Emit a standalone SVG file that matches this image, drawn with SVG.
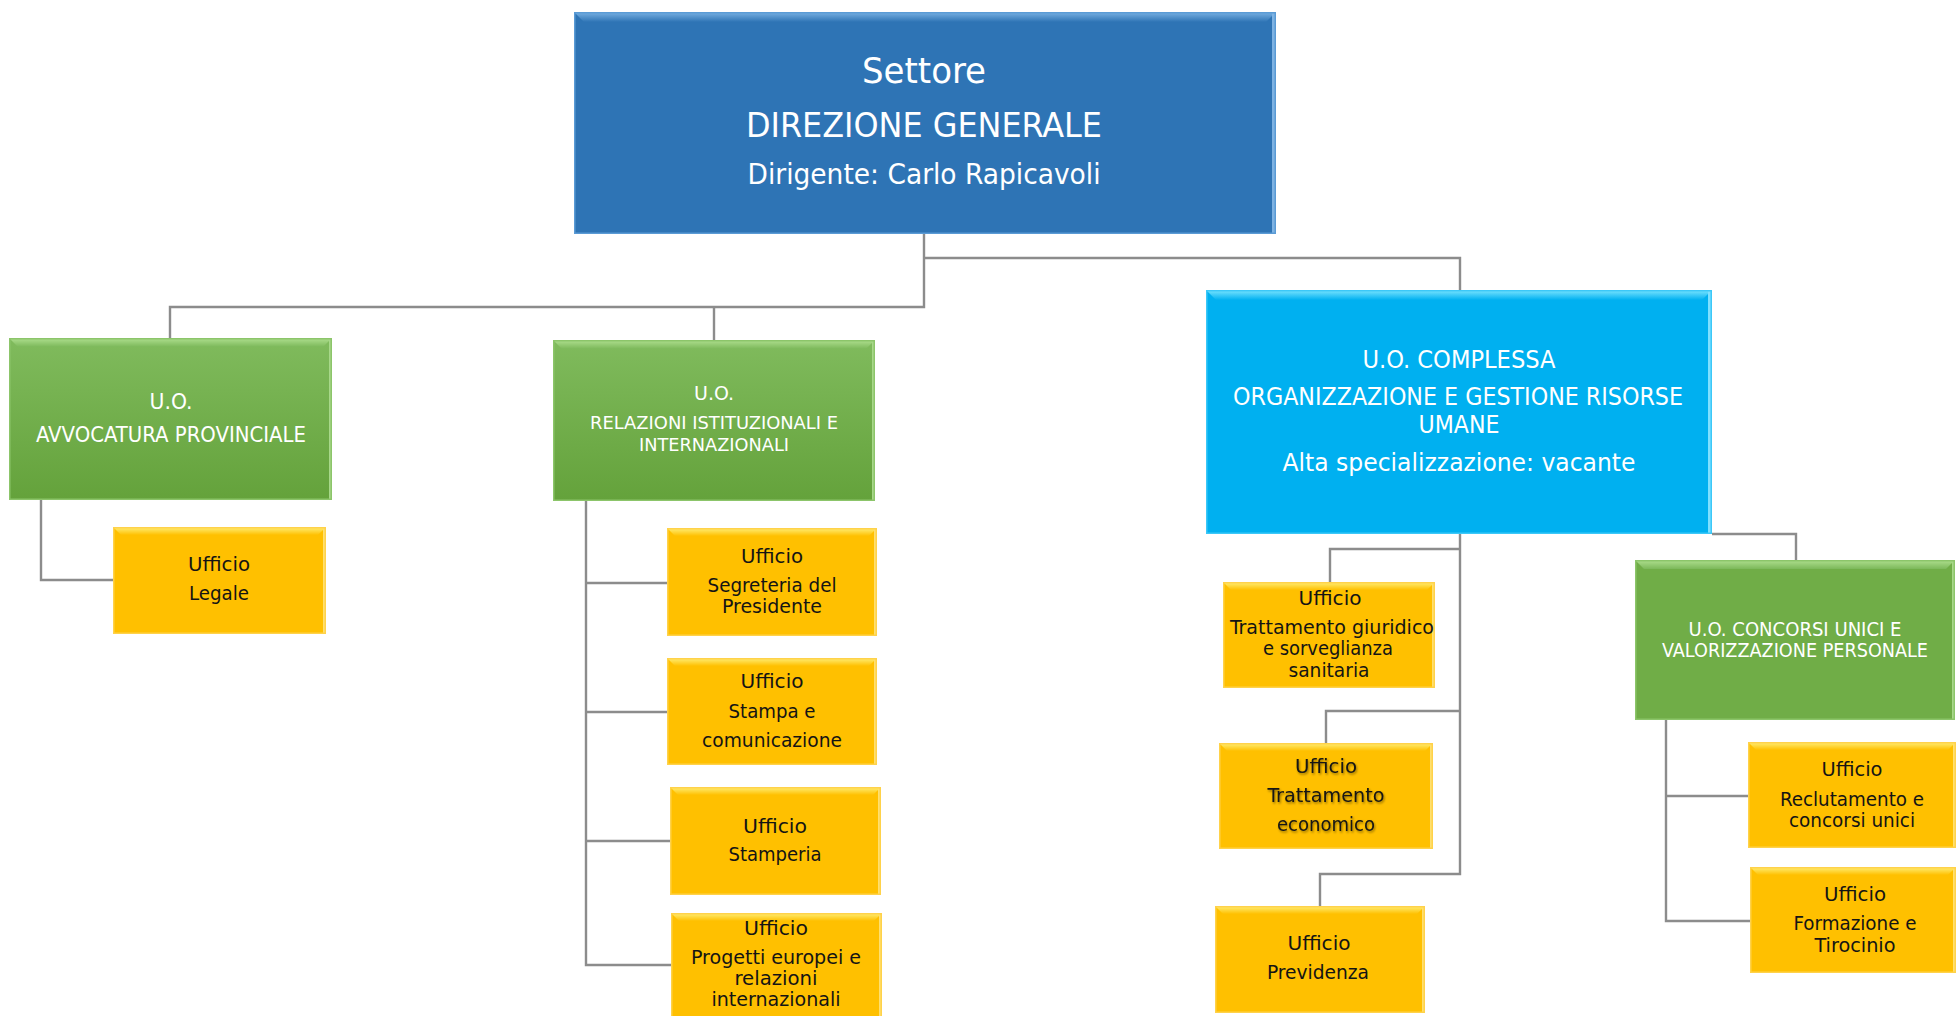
<svg xmlns="http://www.w3.org/2000/svg" width="1957" height="1016" viewBox="0 0 1957 1016">
  <style>
    .lbl { font-family: "DejaVu Sans Condensed", "DejaVu Sans", sans-serif; text-anchor: middle; }
    .w { fill: #ffffff; }
    .k { fill: #141414; }
    .conn { fill: none; stroke: #8c8c8c; stroke-width: 2.4; }
    .edge { fill: none; stroke-width: 1.5; }
  </style>
  <defs>
    <linearGradient id="gGreen" x1="0" y1="0" x2="0" y2="1">
      <stop offset="0" stop-color="#80bb5d"/>
      <stop offset="1" stop-color="#64a23b"/>
    </linearGradient>
    <linearGradient id="bvBlue" x1="0" y1="0" x2="0" y2="1">
      <stop offset="0" stop-color="#7ab2e4"/>
      <stop offset="1" stop-color="#2e74b5"/>
    </linearGradient>
    <linearGradient id="bvCyan" x1="0" y1="0" x2="0" y2="1">
      <stop offset="0" stop-color="#7de6ff"/>
      <stop offset="1" stop-color="#00b0f0"/>
    </linearGradient>
    <linearGradient id="bvGreen" x1="0" y1="0" x2="0" y2="1">
      <stop offset="0" stop-color="#b0e090"/>
      <stop offset="1" stop-color="#7cb85a"/>
    </linearGradient>
    <linearGradient id="bvYellow" x1="0" y1="0" x2="0" y2="1">
      <stop offset="0" stop-color="#fff07a"/>
      <stop offset="1" stop-color="#ffc000"/>
    </linearGradient>
    <filter id="txtShadow" x="-10%" y="-30%" width="120%" height="160%">
      <feDropShadow dx="1" dy="1.5" stdDeviation="0.8" flood-color="#000" flood-opacity="0.45"/>
    </filter>
  </defs>

  <!-- connectors -->
  <g id="connectors">
    <path class="conn" d="M924,234 V307 H170 V338"/>
    <path class="conn" d="M714,307 V340"/>
    <path class="conn" d="M924,258 H1460 V290"/>
    <path class="conn" d="M41,500 V580 H113"/>
    <path class="conn" d="M586,501 V965 H671"/>
    <path class="conn" d="M586,583 H667"/>
    <path class="conn" d="M586,712 H667"/>
    <path class="conn" d="M586,841 H670"/>
    <path class="conn" d="M1460,534 V874 H1320 V906"/>
    <path class="conn" d="M1460,549 H1330 V582"/>
    <path class="conn" d="M1460,711 H1326 V743"/>
    <path class="conn" d="M1712,534 H1796 V560"/>
    <path class="conn" d="M1666,720 V921 H1750"/>
    <path class="conn" d="M1666,796 H1748"/>
  </g>

  <!-- Settore Direzione Generale -->
  <g id="direzione-generale">
    <rect x="574" y="12" width="702" height="222" fill="#2e74b5"/>
    <polygon points="574,12 1276,12 1266,22 584,22" fill="url(#bvBlue)"/>
    <rect x="1272" y="12" width="4" height="222" fill="#7fb3e3"/>
    <rect class="edge" x="574.75" y="12.75" width="700.5" height="220.5" stroke="#5b9bd5"/>
    <text class="lbl w" x="924" y="83" font-size="36" textLength="124" lengthAdjust="spacingAndGlyphs">Settore</text>
    <text class="lbl w" x="924" y="137" font-size="34" textLength="356" lengthAdjust="spacingAndGlyphs">DIREZIONE GENERALE</text>
    <text class="lbl w" x="924" y="184" font-size="28" textLength="353" lengthAdjust="spacingAndGlyphs">Dirigente: Carlo Rapicavoli</text>
  </g>

  <!-- U.O. Avvocatura Provinciale -->
  <g id="uo-avvocatura">
    <rect x="9" y="338" width="323" height="162" fill="url(#gGreen)"/>
    <polygon points="9,338 332,338 323,347 18,347" fill="url(#bvGreen)"/>
    <rect x="329" y="338" width="3" height="162" fill="#a8d88a"/>
    <rect class="edge" x="9.75" y="338.75" width="321.5" height="160.5" stroke="#8cc56a"/>
    <text class="lbl w" x="171" y="409" font-size="22" textLength="43" lengthAdjust="spacingAndGlyphs">U.O.</text>
    <text class="lbl w" x="171" y="442" font-size="22" textLength="270" lengthAdjust="spacingAndGlyphs">AVVOCATURA PROVINCIALE</text>
  </g>

  <!-- U.O. Relazioni Istituzionali e Internazionali -->
  <g id="uo-relazioni">
    <rect x="553" y="340" width="322" height="161" fill="url(#gGreen)"/>
    <polygon points="553,340 875,340 866,349 562,349" fill="url(#bvGreen)"/>
    <rect x="872" y="340" width="3" height="161" fill="#a8d88a"/>
    <rect class="edge" x="553.75" y="340.75" width="320.5" height="159.5" stroke="#8cc56a"/>
    <text class="lbl w" x="714" y="400" font-size="19" textLength="40" lengthAdjust="spacingAndGlyphs">U.O.</text>
    <text class="lbl w" x="714" y="429" font-size="18" textLength="248" lengthAdjust="spacingAndGlyphs">RELAZIONI ISTITUZIONALI E</text>
    <text class="lbl w" x="714" y="451" font-size="18" textLength="150" lengthAdjust="spacingAndGlyphs">INTERNAZIONALI</text>
  </g>

  <!-- Ufficio Legale -->
  <g id="uff-legale">
    <rect x="113" y="527" width="213" height="107" fill="#ffc000"/>
    <polygon points="113,527 326,527 318,535 121,535" fill="url(#bvYellow)"/>
    <rect x="323" y="527" width="3" height="107" fill="#ffe070"/>
    <rect class="edge" x="113.75" y="527.75" width="211.5" height="105.5" stroke="#ffd24a"/>
    <text class="lbl k" x="219" y="571" font-size="20" textLength="62" lengthAdjust="spacingAndGlyphs">Ufficio</text>
    <text class="lbl k" x="219" y="600" font-size="20" textLength="60" lengthAdjust="spacingAndGlyphs">Legale</text>
  </g>

  <!-- Ufficio Segreteria del Presidente -->
  <g id="uff-segreteria">
    <rect x="667" y="528" width="210" height="108" fill="#ffc000"/>
    <polygon points="667,528 877,528 869,536 675,536" fill="url(#bvYellow)"/>
    <rect x="874" y="528" width="3" height="108" fill="#ffe070"/>
    <rect class="edge" x="667.75" y="528.75" width="208.5" height="106.5" stroke="#ffd24a"/>
    <text class="lbl k" x="772" y="563" font-size="20" textLength="62" lengthAdjust="spacingAndGlyphs">Ufficio</text>
    <text class="lbl k" x="772" y="592" font-size="20" textLength="129" lengthAdjust="spacingAndGlyphs">Segreteria del</text>
    <text class="lbl k" x="772" y="613" font-size="20" textLength="100" lengthAdjust="spacingAndGlyphs">Presidente</text>
  </g>

  <!-- Ufficio Stampa e comunicazione -->
  <g id="uff-stampa">
    <rect x="667" y="658" width="210" height="107" fill="#ffc000"/>
    <polygon points="667,658 877,658 869,666 675,666" fill="url(#bvYellow)"/>
    <rect x="874" y="658" width="3" height="107" fill="#ffe070"/>
    <rect class="edge" x="667.75" y="658.75" width="208.5" height="105.5" stroke="#ffd24a"/>
    <text class="lbl k" x="772" y="688" font-size="20" textLength="63" lengthAdjust="spacingAndGlyphs">Ufficio</text>
    <text class="lbl k" x="772" y="718" font-size="20" textLength="87" lengthAdjust="spacingAndGlyphs">Stampa  e</text>
    <text class="lbl k" x="772" y="747" font-size="20" textLength="140" lengthAdjust="spacingAndGlyphs">comunicazione</text>
  </g>

  <!-- Ufficio Stamperia -->
  <g id="uff-stamperia">
    <rect x="670" y="787" width="211" height="108" fill="#ffc000"/>
    <polygon points="670,787 881,787 873,795 678,795" fill="url(#bvYellow)"/>
    <rect x="878" y="787" width="3" height="108" fill="#ffe070"/>
    <rect class="edge" x="670.75" y="787.75" width="209.5" height="106.5" stroke="#ffd24a"/>
    <text class="lbl k" x="775" y="833" font-size="20" textLength="64" lengthAdjust="spacingAndGlyphs">Ufficio</text>
    <text class="lbl k" x="775" y="861" font-size="20" textLength="93" lengthAdjust="spacingAndGlyphs">Stamperia</text>
  </g>

  <!-- Ufficio Progetti europei e relazioni internazionali -->
  <g id="uff-progetti">
    <rect x="671" y="913" width="211" height="110" fill="#ffc000"/>
    <polygon points="671,913 882,913 874,921 679,921" fill="url(#bvYellow)"/>
    <rect x="879" y="913" width="3" height="110" fill="#ffe070"/>
    <rect class="edge" x="671.75" y="913.75" width="209.5" height="108.5" stroke="#ffd24a"/>
    <text class="lbl k" x="776" y="935" font-size="20" textLength="64" lengthAdjust="spacingAndGlyphs">Ufficio</text>
    <text class="lbl k" x="776" y="964" font-size="20" textLength="170" lengthAdjust="spacingAndGlyphs">Progetti europei e</text>
    <text class="lbl k" x="776" y="985" font-size="20" textLength="83" lengthAdjust="spacingAndGlyphs">relazioni</text>
    <text class="lbl k" x="776" y="1006" font-size="20" textLength="129" lengthAdjust="spacingAndGlyphs">internazionali</text>
  </g>

  <!-- U.O. Complessa Organizzazione e Gestione Risorse Umane -->
  <g id="uo-complessa">
    <rect x="1206" y="290" width="506" height="244" fill="#00b0f0"/>
    <polygon points="1206,290 1712,290 1702,300 1216,300" fill="url(#bvCyan)"/>
    <rect x="1708" y="290" width="4" height="244" fill="#7fe0ff"/>
    <rect class="edge" x="1206.75" y="290.75" width="504.5" height="242.5" stroke="#3cc8f8"/>
    <text class="lbl w" x="1459" y="368" font-size="25" textLength="193" lengthAdjust="spacingAndGlyphs">U.O. COMPLESSA</text>
    <text class="lbl w" x="1458" y="405" font-size="24" textLength="450" lengthAdjust="spacingAndGlyphs">ORGANIZZAZIONE E GESTIONE RISORSE</text>
    <text class="lbl w" x="1459" y="433" font-size="24" textLength="81" lengthAdjust="spacingAndGlyphs">UMANE</text>
    <text class="lbl w" x="1459" y="471" font-size="24" textLength="353" lengthAdjust="spacingAndGlyphs">Alta specializzazione: vacante</text>
  </g>

  <!-- Ufficio Trattamento giuridico e sorveglianza sanitaria -->
  <g id="uff-trattamento-giuridico">
    <rect x="1223" y="582" width="212" height="106" fill="#ffc000"/>
    <polygon points="1223,582 1435,582 1427,590 1231,590" fill="url(#bvYellow)"/>
    <rect x="1432" y="582" width="3" height="106" fill="#ffe070"/>
    <rect class="edge" x="1223.75" y="582.75" width="210.5" height="104.5" stroke="#ffd24a"/>
    <text class="lbl k" x="1330" y="605" font-size="20" textLength="63" lengthAdjust="spacingAndGlyphs">Ufficio</text>
    <text class="lbl k" x="1332" y="634" font-size="20" textLength="204" lengthAdjust="spacingAndGlyphs">Trattamento giuridico</text>
    <text class="lbl k" x="1328" y="655" font-size="20" textLength="130" lengthAdjust="spacingAndGlyphs">e sorveglianza</text>
    <text class="lbl k" x="1329" y="677" font-size="20" textLength="81" lengthAdjust="spacingAndGlyphs">sanitaria</text>
  </g>

  <!-- Ufficio Trattamento economico -->
  <g id="uff-trattamento-economico">
    <rect x="1219" y="743" width="214" height="106" fill="#ffc000"/>
    <polygon points="1219,743 1433,743 1425,751 1227,751" fill="url(#bvYellow)"/>
    <rect x="1430" y="743" width="3" height="106" fill="#ffe070"/>
    <rect class="edge" x="1219.75" y="743.75" width="212.5" height="104.5" stroke="#ffd24a"/>
    <g filter="url(#txtShadow)">
      <text class="lbl k" x="1326" y="773" font-size="20" textLength="62" lengthAdjust="spacingAndGlyphs">Ufficio</text>
      <text class="lbl k" x="1326" y="802" font-size="20" textLength="117" lengthAdjust="spacingAndGlyphs">Trattamento</text>
      <text class="lbl k" x="1326" y="831" font-size="20" textLength="98" lengthAdjust="spacingAndGlyphs">economico</text>
    </g>
  </g>

  <!-- Ufficio Previdenza -->
  <g id="uff-previdenza">
    <rect x="1215" y="906" width="210" height="107" fill="#ffc000"/>
    <polygon points="1215,906 1425,906 1417,914 1223,914" fill="url(#bvYellow)"/>
    <rect x="1422" y="906" width="3" height="107" fill="#ffe070"/>
    <rect class="edge" x="1215.75" y="906.75" width="208.5" height="105.5" stroke="#ffd24a"/>
    <text class="lbl k" x="1319" y="950" font-size="20" textLength="63" lengthAdjust="spacingAndGlyphs">Ufficio</text>
    <text class="lbl k" x="1318" y="979" font-size="20" textLength="102" lengthAdjust="spacingAndGlyphs">Previdenza</text>
  </g>

  <!-- U.O. Concorsi Unici e Valorizzazione Personale -->
  <g id="uo-concorsi">
    <rect x="1635" y="560" width="320" height="160" fill="#70ad47"/>
    <polygon points="1635,560 1955,560 1946,569 1644,569" fill="url(#bvGreen)"/>
    <rect x="1952" y="560" width="3" height="160" fill="#a8d88a"/>
    <rect class="edge" x="1635.75" y="560.75" width="318.5" height="158.5" stroke="#8cc56a"/>
    <text class="lbl w" x="1795" y="636" font-size="19" textLength="213" lengthAdjust="spacingAndGlyphs">U.O. CONCORSI UNICI E</text>
    <text class="lbl w" x="1795" y="657" font-size="19" textLength="266" lengthAdjust="spacingAndGlyphs">VALORIZZAZIONE PERSONALE</text>
  </g>

  <!-- Ufficio Reclutamento e concorsi unici -->
  <g id="uff-reclutamento">
    <rect x="1748" y="742" width="208" height="106" fill="#ffc000"/>
    <polygon points="1748,742 1956,742 1948,750 1756,750" fill="url(#bvYellow)"/>
    <rect x="1953" y="742" width="3" height="106" fill="#ffe070"/>
    <rect class="edge" x="1748.75" y="742.75" width="206.5" height="104.5" stroke="#ffd24a"/>
    <text class="lbl k" x="1852" y="776" font-size="20" textLength="61" lengthAdjust="spacingAndGlyphs">Ufficio</text>
    <text class="lbl k" x="1852" y="806" font-size="20" textLength="144" lengthAdjust="spacingAndGlyphs">Reclutamento e</text>
    <text class="lbl k" x="1852" y="827" font-size="20" textLength="126" lengthAdjust="spacingAndGlyphs">concorsi unici</text>
  </g>

  <!-- Ufficio Formazione e Tirocinio -->
  <g id="uff-formazione">
    <rect x="1750" y="867" width="206" height="106" fill="#ffc000"/>
    <polygon points="1750,867 1956,867 1948,875 1758,875" fill="url(#bvYellow)"/>
    <rect x="1953" y="867" width="3" height="106" fill="#ffe070"/>
    <rect class="edge" x="1750.75" y="867.75" width="204.5" height="104.5" stroke="#ffd24a"/>
    <text class="lbl k" x="1855" y="901" font-size="20" textLength="62" lengthAdjust="spacingAndGlyphs">Ufficio</text>
    <text class="lbl k" x="1855" y="930" font-size="20" textLength="123" lengthAdjust="spacingAndGlyphs">Formazione e</text>
    <text class="lbl k" x="1855" y="952" font-size="20" textLength="81" lengthAdjust="spacingAndGlyphs">Tirocinio</text>
  </g>
</svg>
